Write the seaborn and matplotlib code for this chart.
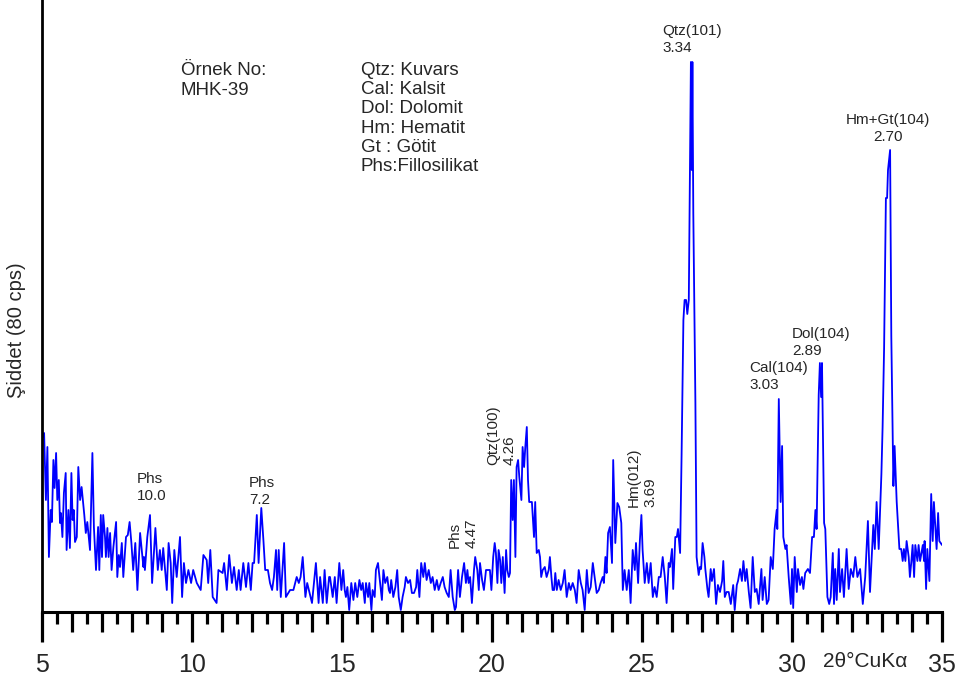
import numpy as np
import pandas as pd
import matplotlib
matplotlib.use("Agg")
import matplotlib.pyplot as plt
import seaborn as sns

# Diffraction angle (2-theta, degrees) and counts of sample MHK-39
two_theta = [
    5.02, 5.07, 5.13, 5.18, 5.23, 5.29, 5.33, 5.38, 5.42, 5.47, 5.51, 5.56, 5.60, 5.63, 5.68, 5.73,
    5.79, 5.82, 5.88, 5.93, 5.98, 6.02, 6.06, 6.10, 6.16, 6.21, 6.27, 6.32, 6.37, 6.41, 6.46, 6.51,
    6.60, 6.68, 6.73, 6.80, 6.87, 6.91, 6.96, 7.00, 7.04, 7.10, 7.13, 7.18, 7.22, 7.27, 7.32, 7.38,
    7.47, 7.51, 7.56, 7.60, 7.66, 7.71, 7.80, 7.86, 7.92, 7.98, 8.04, 8.11, 8.18, 8.27, 8.38, 8.40,
    8.43, 8.51, 8.60, 8.67, 8.78, 8.86, 8.93, 8.99, 9.04, 9.16, 9.22, 9.29, 9.34, 9.41, 9.49, 9.60,
    9.67, 9.73, 9.80, 9.88, 9.97, 10.04, 10.16, 10.29, 10.38, 10.49, 10.54, 10.61, 10.69, 10.82, 10.88, 11.02,
    11.07, 11.16, 11.24, 11.33, 11.40, 11.49, 11.56, 11.62, 11.71, 11.80, 11.88, 11.96, 12.02, 12.07, 12.16, 12.22,
    12.31, 12.38, 12.44, 12.53, 12.60, 12.67, 12.73, 12.80, 12.84, 12.89, 12.96, 13.07, 13.13, 13.27, 13.38, 13.49,
    13.56, 13.62, 13.69, 13.78, 13.84, 14.00, 14.13, 14.22, 14.27, 14.36, 14.42, 14.49, 14.57,
    14.60, 14.69, 14.76, 14.82, 14.91, 14.98, 15.04, 15.09, 15.13, 15.18, 15.24, 15.31, 15.38, 15.44, 15.51, 15.58,
    15.64, 15.69, 15.76, 15.80, 15.87, 15.91, 15.98, 16.02, 16.09, 16.13, 16.20, 16.27, 16.33, 16.38, 16.44, 16.51,
    16.56, 16.60, 16.64, 16.71, 16.78, 16.84, 16.89, 16.96, 17.02, 17.09, 17.13, 17.20, 17.27, 17.33, 17.40, 17.47,
    17.51, 17.58, 17.64, 17.71, 17.76, 17.82, 17.89, 17.96, 18.02, 18.09, 18.16, 18.22, 18.29, 18.36, 18.42, 18.49,
    18.56, 18.62, 18.69, 18.76, 18.80, 18.87, 18.93, 19.00, 19.07, 19.13, 19.18, 19.22, 19.27, 19.33, 19.40, 19.44,
    19.51, 19.56, 19.60, 19.67, 19.73, 19.80, 19.87, 19.93, 19.98, 20.04, 20.09, 20.13, 20.18, 20.22, 20.27, 20.31,
    20.36, 20.42, 20.47, 20.51, 20.56, 20.60, 20.64, 20.69, 20.73, 20.78, 20.82, 20.87, 20.91, 20.98, 21.02, 21.07,
    21.11, 21.16, 21.20, 21.24, 21.33, 21.40, 21.44, 21.49, 21.56, 21.60, 21.64, 21.69, 21.76, 21.82, 21.89, 21.93,
    21.98, 22.02, 22.07, 22.11, 22.16, 22.22, 22.29, 22.36, 22.42, 22.49, 22.56, 22.62, 22.69, 22.76, 22.82, 22.89,
    22.96, 23.02, 23.09, 23.16, 23.22, 23.29, 23.36, 23.42, 23.49, 23.56, 23.62, 23.69, 23.73, 23.78, 23.82, 23.87,
    23.93, 24.00, 24.04, 24.11, 24.18, 24.24, 24.31, 24.36, 24.42, 24.49, 24.56, 24.62, 24.69, 24.76, 24.80, 24.87,
    24.93, 24.98, 25.02, 25.09, 25.16, 25.22, 25.29, 25.36, 25.42, 25.49, 25.56, 25.62, 25.69, 25.76, 25.82, 25.89,
    25.93, 26.00, 26.04, 26.11, 26.16, 26.20, 26.27, 26.32, 26.38, 26.42, 26.47, 26.51, 26.56, 26.63, 26.66, 26.68,
    26.71, 26.78, 26.82, 26.89, 26.93, 26.97, 27.02, 27.08, 27.11, 27.18, 27.22, 27.29, 27.33, 27.40, 27.47, 27.53,
    27.60, 27.67, 27.71, 27.76, 27.82, 27.89, 27.96, 28.04, 28.09, 28.16, 28.20, 28.27, 28.33, 28.38, 28.44, 28.49,
    28.56, 28.62, 28.69, 28.76, 28.82, 28.89, 28.98, 29.02, 29.09, 29.16, 29.22, 29.29, 29.36, 29.42, 29.49, 29.51,
    29.56, 29.62, 29.67, 29.71, 29.78, 29.82, 29.89, 29.96, 30.00, 30.04, 30.09, 30.16, 30.20, 30.27, 30.33, 30.38,
    30.44, 30.53, 30.60, 30.67, 30.73, 30.78, 30.82, 30.89, 30.93, 30.97, 31.00, 31.07, 31.11, 31.18, 31.24, 31.29,
    31.36, 31.40, 31.44, 31.49, 31.56, 31.60, 31.67, 31.73, 31.82, 31.89, 31.96, 32.04, 32.11, 32.18, 32.27, 32.36,
    32.44, 32.53, 32.60, 32.71, 32.76, 32.82, 32.89, 32.98, 33.02, 33.07, 33.13, 33.17, 33.20, 33.27, 33.31, 33.38,
    33.42, 33.49, 33.58, 33.64, 33.69, 33.73, 33.78, 33.82, 33.89, 33.93, 33.98, 34.02, 34.07, 34.11, 34.18, 34.22,
    34.27, 34.36, 34.40, 34.42, 34.47, 34.51, 34.58, 34.64, 34.69, 34.73, 34.82, 34.87, 34.91, 35.00, 35.05,
]
intensity = [
    175, 179, 112, 165, 55, 102, 90, 152, 124, 159, 112, 132, 89, 99, 75, 119,
    139, 62, 102, 64, 139, 92, 102, 70, 75, 145, 112, 125, 109, 97, 79, 90,
    62, 159, 85, 42, 85, 42, 97, 55, 97, 75, 55, 84, 55, 79, 42, 65,
    90, 35, 57, 45, 69, 35, 75, 77, 90, 69, 42, 69, 22, 79, 45, 55,
    42, 75, 97, 29, 84, 42, 62, 42, 64, 22, 69, 49, 9, 62, 35, 75,
    15, 49, 29, 42, 29, 42, 29, 22, 57, 52, 29, 62, 15, 9, 42, 39,
    49, 22, 57, 29, 45, 22, 42, 22, 49, 25, 49, 22, 49, 49, 97, 49,
    104, 72, 42, 42, 29, 22, 35, 62, 22, 62, 15, 69, 15, 22, 22, 35,
    29, 35, 55, 15, 29, 9, 49, 9, 35, 9, 42, 9, 35,
    35, 15, 35, 9, 49, 22, 42, 22, 15, 25, 2, 29, 12, 29, 15, 32,
    22, 29, 9, 29, 15, 29, 2, 22, 15, 42, 49, 29, 12, 42, 29, 35,
    22, 19, 32, 15, 25, 42, 15, 2, 15, 25, 35, 29, 32, 19, 19, 25,
    42, 15, 49, 35, 49, 32, 42, 29, 35, 22, 32, 22, 29, 35, 25, 19,
    15, 42, 15, 2, 5, 42, 15, 35, 49, 29, 42, 29, 35, 9, 42, 55,
    42, 22, 49, 32, 22, 42, 42, 42, 22, 55, 69, 59, 29, 62, 52, 29,
    55, 19, 62, 42, 35, 39, 132, 92, 132, 55, 145, 152, 135, 112, 165, 145,
    165, 185, 132, 110, 110, 75, 110, 59, 62, 55, 35, 42, 45, 35, 42, 55,
    35, 22, 22, 39, 22, 32, 22, 29, 42, 15, 29, 22, 29, 22, 9, 42,
    29, 22, 2, 42, 19, 25, 49, 35, 19, 22, 29, 35, 29, 55, 39, 79,
    85, 49, 152, 69, 109, 105, 89, 22, 42, 22, 42, 9, 62, 42, 69, 29,
    72, 97, 62, 29, 49, 29, 49, 15, 25, 15, 35, 35, 55, 35, 9, 49,
    45, 63, 23, 75, 75, 83, 59, 158, 292, 312, 312, 298, 312, 550, 442, 550,
    399, 209, 55, 37, 45, 43, 69, 55, 43, 23, 15, 43, 31, 43, 8, 27,
    20, 31, 51, 15, 20, 20, 8, 27, 2, 27, 31, 43, 31, 51, 31, 43,
    20, 4, 55, 20, 23, 8, 43, 12, 35, 8, 12, 55, 43, 83, 102, 83,
    213, 110, 166, 75, 63, 67, 35, 8, 43, 4, 55, 20, 43, 27, 35, 23,
    39, 43, 39, 75, 75, 102, 83, 217, 249, 215, 249, 89, 83, 15, 8, 15,
    59, 8, 43, 12, 63, 20, 43, 15, 63, 23, 43, 35, 55, 35, 43, 8,
    35, 91, 20, 87, 63, 110, 63, 138, 185, 264, 414, 414, 442, 462, 276, 126,
    166, 110, 63, 63, 51, 63, 51, 71, 55, 35, 51, 67, 35, 67, 51, 67,
    51, 67, 51, 71, 23, 63, 31, 118, 71, 110, 63, 99, 71, 67, 71,
]

# Reflection labels: text, 2-theta, counts, rotation
peak_texts = ["Phs\n10.0", "Phs\n7.2", "Phs\n4.47", "Qtz(100)\n4.26", "Hm(012)\n3.69",
              "Qtz(101)\n3.34", "Cal(104)\n3.03", "Dol(104)\n2.89", "Hm+Gt(104)\n2.70"]
peak_x = [8.17, 11.9, 18.53, 19.8, 24.5, 25.67, 28.57, 30.0, 33.2]
peak_y = [112, 108, 64, 147, 105, 560, 223, 257, 471]
peak_rot = [0, 0, 90, 90, 90, 0, 0, 0, 0]

sample_lines = ["Örnek No:", "MHK-39"]
phase_lines = ["Qtz: Kuvars", "Cal: Kalsit", "Dol: Dolomit", "Hm: Hematit", "Gt : Götit", "Phs:Fillosilikat"]

sns.set_style("ticks")
plt.rcParams["font.family"] = ["Liberation Sans", "DejaVu Sans"]

W, H = 961, 681
fig = plt.figure(figsize=(W / 100, H / 100), dpi=100)
ax = fig.add_axes([42 / W, 1 - 612 / H, 900 / W, 612 / H])

df = pd.DataFrame({"two_theta": two_theta, "counts": intensity})
sns.lineplot(data=df, x="two_theta", y="counts", ax=ax, color="#0000ff",
             linewidth=1.3, sort=False, estimator=None)

ax.set_xlim(5, 35)
ax.set_ylim(0, 612)
ax.set_xlabel("")
ax.set_yticks([])
ax.set_ylabel("Şiddet (80 cps)", fontsize=14.5)
ax.yaxis.set_label_coords(-0.018, 0.46)

for side in ("top", "right"):
    ax.spines[side].set_visible(False)
ax.spines["left"].set_linewidth(2.0)
ax.spines["bottom"].set_linewidth(2.2)
ax.spines["left"].set_color("black")
ax.spines["bottom"].set_color("black")

ax.set_xticks(np.arange(5, 36, 5))
ax.set_xticks(np.arange(5, 36, 1), minor=True)
ax.tick_params(axis="x", which="major", direction="out", length=21.6, width=2.3,
               labelsize=18, pad=8, color="black")
ax.tick_params(axis="x", which="minor", direction="out", length=14.4, width=2.3, color="black")

half = ax.secondary_xaxis("bottom")
half.set_xticks(np.arange(5.5, 35, 1))
half.tick_params(axis="x", direction="out", length=8.4, width=2.3, labelbottom=False, color="black")
half.spines["bottom"].set_visible(False)

fig.text(823 / W, 1 - 667 / H, "2θ°CuKα", fontsize=15, va="baseline", ha="left")

for txt, x, y, rot in zip(peak_texts, peak_x, peak_y, peak_rot):
    if rot:
        ax.text(x, y, txt, rotation=90, ha="left", va="bottom", fontsize=11, linespacing=1.25)
    elif txt.startswith("Hm+Gt"):
        ax.text(x, y, txt, ha="center", va="baseline", fontsize=11, linespacing=1.25,
                multialignment="center")
    else:
        ax.text(x, y, txt, ha="left", va="baseline", fontsize=11, linespacing=1.25)

for i, line in enumerate(sample_lines):
    fig.text(181 / W, 1 - (75 + 20 * i) / H, line, fontsize=13.5, va="baseline")
for i, line in enumerate(phase_lines):
    fig.text(361 / W, 1 - (75 + 19.2 * i) / H, line, fontsize=13.5, va="baseline")

fig.savefig("out.png", dpi=100)
